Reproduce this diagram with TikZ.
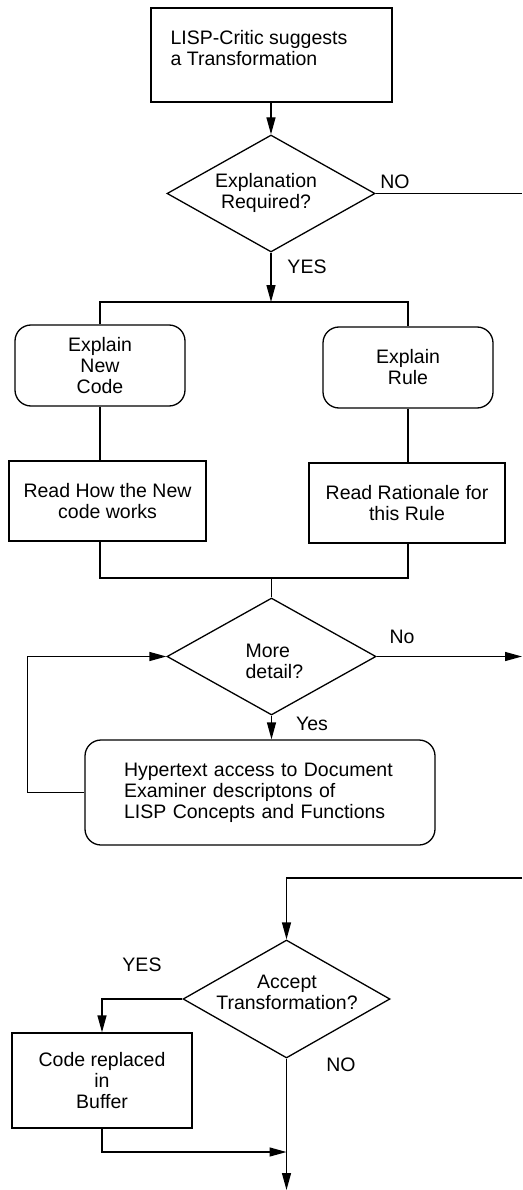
\documentclass[tikz,border=0pt]{standalone}
\usepackage{fontspec}
\setmainfont{Liberation Sans}
\usetikzlibrary{shapes.geometric,arrows.meta}
\begin{document}
\begin{tikzpicture}[x=1pt,y=-1pt,
  line width=1.3pt,
  every node/.style={font=\fontsize{19.5}{21}\selectfont},
  box/.style={draw, rectangle, inner sep=0pt, align=center},
  rbox/.style={draw, rectangle, rounded corners=16pt, inner sep=0pt, align=center},
  dia/.style={draw, diamond, inner sep=0pt},
  txt/.style={inner sep=0pt, align=center},
  lbl/.style={inner sep=0pt},
  arr/.style={-{Triangle[length=17pt,width=9pt]}},
]
\useasboundingbox (0,0) rectangle (522,1190);

% nodes
\node[box, minimum width=241pt, minimum height=94pt] (t) at (271.5,55) {};
\node[txt, align=left, anchor=west] (tt) at (170,48) {LISP-Critic suggests\\a Transformation};

\node[dia, minimum width=208pt, minimum height=117pt] (d1) at (271,193.5) {};
\node[txt] (d1t) at (266,193) {Explanation\\Required?};

\node[rbox, minimum width=170pt, minimum height=81pt] (e1) at (100,365.5) {Explain\\New\\Code};
\node[rbox, minimum width=170pt, minimum height=81pt] (e2) at (408,367.5) {Explain\\Rule};

\node[box, minimum width=197pt, minimum height=80pt] (r1) at (107.5,501) {Read How the New\\code works};
\node[box, minimum width=196pt, minimum height=80pt] (r2) at (407,503) {Read Rationale for\\this Rule};

\node[dia, minimum width=209pt, minimum height=117pt] (d2) at (271.5,656.5) {};
\node[txt, align=left, anchor=west] (d2t) at (245,661) {More\\detail?};

\node[rbox, minimum width=350pt, minimum height=105pt, text width=272pt, align=left] (h) at (260,792.5)
  {Hypertext access to Document\\Examiner descriptons of\\LISP Concepts and Functions};

\node[dia, minimum width=207pt, minimum height=118pt] (d3) at (286.5,999) {};
\node[txt] (d3t) at (287,992) {Accept\\Transformation?};

\node[box, minimum width=180pt, minimum height=95pt] (c) at (102,1080.5) {Code replaced\\in\\Buffer};

% labels
\node[lbl] (l1) at (395,182) {NO};
\node[lbl] (l2) at (307,267) {YES};
\node[lbl] (l3) at (402,637) {No};
\node[lbl] (l4) at (312,724) {Yes};
\node[lbl] (l5) at (142,965) {YES};
\node[lbl] (l6) at (341,1065) {NO};

% coordinates
\coordinate (noout) at (522,193.5);
\coordinate (split) at (271,302);
\coordinate (sl) at (100,302);
\coordinate (sr) at (408,302);
\coordinate (jl) at (100,578);
\coordinate (jr) at (408,578);
\coordinate (moreout) at (522,656.5);
\coordinate (noin) at (522,878);
\coordinate (merge) at (286.5,1152);
\coordinate (bottom) at (286.5,1190);

% connectors
\draw[arr] (t.south -| d1.north) -- (d1.north);
\draw (d1.east) -- (noout);
\draw[arr] (d1.south) -- (split);
\draw (e1.north) -- (sl) -- (sr) -- (e2.north);
\draw (e1.south) -- (e1.south |- r1.north);
\draw (e2.south) -- (e2.south |- r2.north);
\draw (e1.south |- r1.south) -- (jl) -- (jr) -- (e2.south |- r2.south);
\draw (d2.north |- jl) -- (d2.north);
\draw[arr] (d2.east) -- (moreout);
\draw[arr] (d2.south) -- (d2.south |- h.north);
\draw[arr] (h.west) -- ++(-57,0) |- (d2.west);
\draw[arr] (noin) -| (d3.north);
\draw[arr] (d3.west) -| (c.north);
\draw[arr] (d3.south) -- (bottom);
\draw[arr] (c.south) |- (merge);
\end{tikzpicture}
\end{document}
